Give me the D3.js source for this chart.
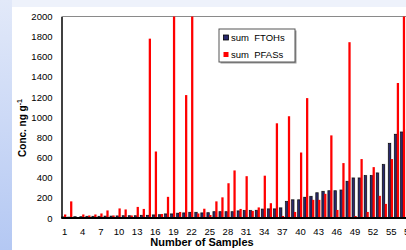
<!DOCTYPE html>
<html>
<head>
<meta charset="utf-8">
<script src="https://cdn.jsdelivr.net/npm/d3@7"></script>
<style>
  body { margin: 0; overflow: hidden; }
  svg { display: block; font-family: "Liberation Sans", Arial, sans-serif; }
</style>
</head>
<body>
<svg id="chart" width="406" height="250"></svg>
<script>
const samples = [1,2,3,4,5,6,7,8,9,10,11,12,13,14,15,16,17,18,19,20,21,22,23,24,25,26,27,28,29,30,
  31,32,33,34,35,36,37,38,39,40,41,42,43,44,45,46,47,48,49,50,51,52,53,54,55,56,57,58];

const sumFTOHs = [10,8,12,12,15,15,15,18,18,20,22,22,22,25,25,30,32,40,40,47,50,55,55,50,52,62,62,62,62,70,
  73,73,75,88,90,90,100,163,180,180,205,213,250,263,270,270,277,363,397,397,420,420,447,530,740,830,853,870];

const sumPFASs = [35,165,5,35,25,35,45,75,25,95,85,25,110,90,1780,660,40,210,2000,60,1220,2000,45,92,30,165,205,345,472,90,
  415,70,105,420,147,940,20,1010,60,650,1190,180,180,240,820,80,545,1745,20,585,60,505,220,140,585,1340,2000,900];

const xTicks = [1,4,7,10,13,16,19,22,25,28,31,34,37,40,43,46,49,52,55,58];
const yTicks = [0,200,400,600,800,1000,1200,1400,1600,1800,2000];

const svg = d3.select("#chart");
const W = 406, H = 250;
const m = { left: 61.5, top: 16.5, bottom: 218 };

// slide-like background
const defs = svg.append("defs");
const grad = defs.append("linearGradient").attr("id", "side").attr("x1", 0).attr("y1", 0).attr("x2", 0).attr("y2", 1);
grad.append("stop").attr("offset", "0%").attr("stop-color", "#e2e9f9");
grad.append("stop").attr("offset", "100%").attr("stop-color", "#b4c8f3");
svg.append("rect").attr("width", W).attr("height", H).attr("fill", "#fff");
svg.append("rect").attr("width", W).attr("height", 7).attr("fill", "#eef2fb");
svg.append("rect").attr("width", 12).attr("height", H).attr("fill", "url(#side)");

const x = d3.scaleBand()
  .domain(samples)
  .range([m.left, m.left + samples.length * 6.05])
  .paddingInner(0.25)
  .paddingOuter(0.125);

const sub = d3.scaleBand().domain(["ftoh", "pfas"]).range([-0.5, x.bandwidth() - 0.5]);

const y = d3.scaleLinear().domain([0, 2000]).range([m.bottom, m.top]);

// frame top
svg.append("line")
  .attr("x1", m.left).attr("x2", W)
  .attr("y1", m.top).attr("y2", m.top)
  .attr("stroke", "#8a8a8a").attr("stroke-width", 1);

const data = samples.map((s, i) => ({ s, ftoh: sumFTOHs[i], pfas: sumPFASs[i] }));

// FTOHs bars with soft grey halo
svg.append("g").selectAll("rect").data(data).join("rect")
  .attr("x", d => x(d.s) + sub("ftoh") - 0.8)
  .attr("y", d => y(d.ftoh) - 0.8)
  .attr("width", sub.bandwidth() + 1.6)
  .attr("height", d => m.bottom - y(d.ftoh) + 0.8)
  .attr("fill", "#c4c4c4");

svg.append("g").selectAll("rect").data(data).join("rect")
  .attr("x", d => x(d.s) + sub("ftoh"))
  .attr("y", d => y(d.ftoh))
  .attr("width", sub.bandwidth())
  .attr("height", d => m.bottom - y(d.ftoh))
  .attr("fill", "#2a2a6e")
  .attr("stroke", "#000")
  .attr("stroke-width", 0.6);

svg.append("g").selectAll("rect").data(data).join("rect")
  .attr("x", d => x(d.s) + sub("pfas"))
  .attr("y", d => y(Math.min(d.pfas, 2000)))
  .attr("width", sub.bandwidth())
  .attr("height", d => m.bottom - y(Math.min(d.pfas, 2000)))
  .attr("fill", "#ff0000");

// axes
const yAxis = svg.append("g")
  .attr("transform", `translate(${m.left},0)`)
  .call(d3.axisLeft(y).tickValues(yTicks).tickFormat(d3.format("d")).tickSize(0).tickPadding(9));
yAxis.select(".domain").attr("stroke", "#000").attr("stroke-width", 1.5);
yAxis.selectAll("text").attr("font-size", 9.5).attr("fill", "#000")
  .attr("font-family", "Liberation Sans, Arial, sans-serif");

const xAxis = svg.append("g")
  .attr("transform", `translate(0,${m.bottom})`)
  .call(d3.axisBottom(x).tickValues(xTicks).tickSize(0).tickPadding(10));
xAxis.select(".domain").attr("stroke", "#000").attr("stroke-width", 2)
  .attr("d", `M${m.left},0H${W}`);
xAxis.selectAll("text").attr("font-size", 9.5).attr("fill", "#000")
  .attr("font-family", "Liberation Sans, Arial, sans-serif");

// axis titles
svg.append("text")
  .attr("x", 202).attr("y", 246)
  .attr("text-anchor", "middle")
  .attr("font-size", 11).attr("font-weight", "bold")
  .text("Number of Samples");

const yt = svg.append("text")
  .attr("transform", "translate(26,128) rotate(-90)")
  .attr("text-anchor", "middle")
  .attr("font-size", 10).attr("font-weight", "bold");
yt.append("tspan").text("Conc. ng g");
yt.append("tspan").attr("dy", -4).attr("font-size", 7).text("-1");

// legend
const lg = svg.append("g").attr("transform", "translate(219,29)");
lg.append("rect").attr("x", 1.5).attr("y", 1.5).attr("width", 76).attr("height", 33).attr("fill", "#999");
lg.append("rect").attr("width", 76).attr("height", 33).attr("fill", "#fff")
  .attr("stroke", "#555").attr("stroke-width", 1);
const items = [
  { label: "sum  FTOHs", color: "#2a2a6e", stroke: "#000" },
  { label: "sum  PFASs", color: "#ff0000", stroke: "none" },
];
items.forEach((it, i) => {
  lg.append("rect").attr("x", 4.5).attr("y", 6 + i * 17).attr("width", 5).attr("height", 5)
    .attr("fill", it.color).attr("stroke", it.stroke).attr("stroke-width", 0.8);
  lg.append("text").attr("x", 12).attr("y", 11.5 + i * 17)
    .attr("font-size", 9.5).attr("xml:space", "preserve").style("white-space", "pre")
    .text(it.label);
});
</script>
</body>
</html>
